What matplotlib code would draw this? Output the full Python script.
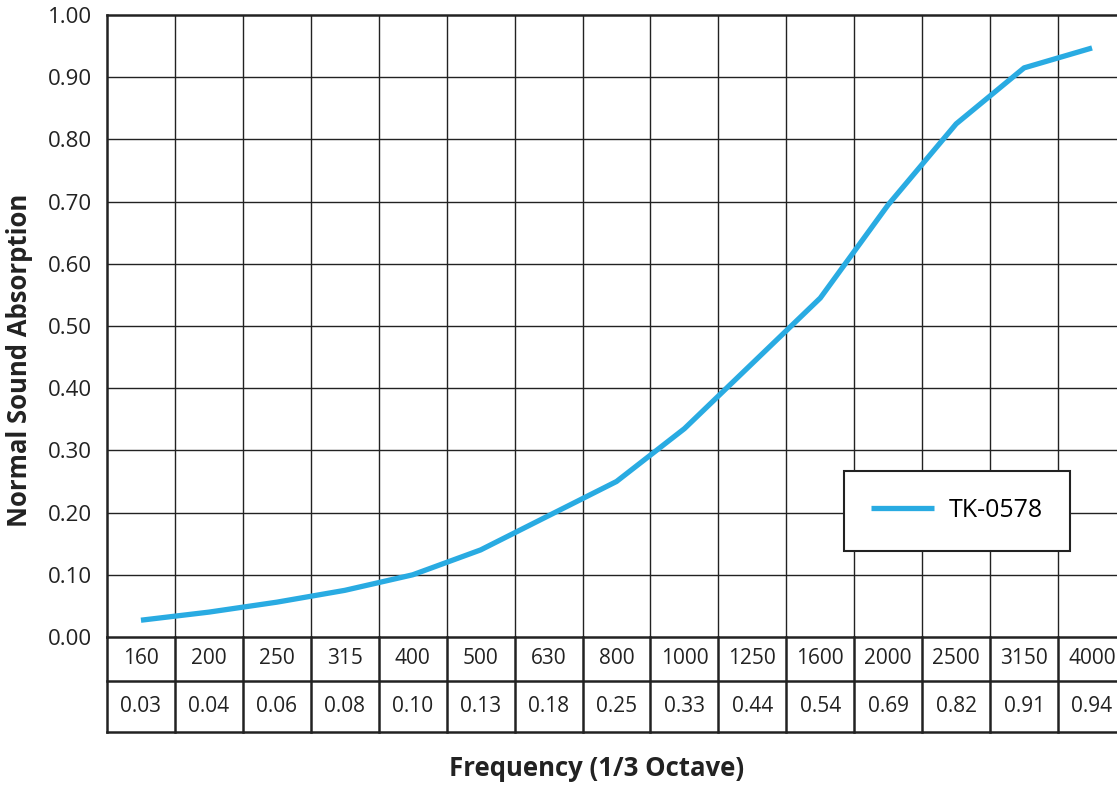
import matplotlib
matplotlib.use("Agg")
import matplotlib.pyplot as plt

# frequencies (1/3 octave bands) and absorption values
freqs = ["160", "200", "250", "315", "400", "500", "630", "800", "1000",
         "1250", "1600", "2000", "2500", "3150", "4000"]
table_vals = ["0.03", "0.04", "0.06", "0.08", "0.10", "0.13", "0.18", "0.25",
              "0.33", "0.44", "0.54", "0.69", "0.82", "0.91", "0.94"]
curve = [0.027, 0.040, 0.056, 0.075, 0.100, 0.140, 0.195, 0.250, 0.335,
         0.440, 0.545, 0.695, 0.825, 0.915, 0.947]
yticks = [0.0, 0.1, 0.2, 0.3, 0.4, 0.5, 0.6, 0.7, 0.8, 0.9, 1.0]

plt.rcParams['font.family'] = ['Open Sans', 'DejaVu Sans']
line_color = "#29abe2"
grid_color = "#222222"

fig = plt.figure(figsize=(11.17, 7.87), dpi=100)
W, H = 1117, 787
ax = fig.add_axes([107 / W, 1 - 637 / H, (1126 - 107) / W, 622 / H])

n = len(freqs)
xs = [i + 0.5 for i in range(n)]
ax.plot(xs, curve, color=line_color, lw=3.8, solid_capstyle='butt',
        label="TK-0578", zorder=3)

ax.set_xlim(0, n)
ax.set_ylim(0, 1)
ax.set_yticks(yticks)
ax.set_yticklabels([f"{v:.2f}" for v in yticks], fontsize=16, color="#222222")
ax.tick_params(axis='y', length=0, pad=11)
ax.set_xticks([])

# grid
for i in range(1, n):
    ax.axvline(i, color=grid_color, lw=1.0, zorder=1)
for v in yticks[1:-1]:
    ax.axhline(v, color=grid_color, lw=1.0, zorder=1)

for side in ['left', 'top']:
    ax.spines[side].set_linewidth(1.8)
    ax.spines[side].set_color(grid_color)
ax.spines['right'].set_visible(False)
ax.spines['bottom'].set_visible(False)

# table below the plot
tr = ax.get_xaxis_transform()
r1 = -44 / 622
r2 = -95 / 622
for yv in [0, r1, r2]:
    ax.plot([0, n], [yv, yv], transform=tr, color=grid_color, lw=1.8,
            clip_on=False)
for i in range(n + 1):
    ax.plot([i, i], [0, r2], transform=tr, color=grid_color, lw=1.8,
            clip_on=False)
for i in range(n):
    ax.text(i + 0.5, r1 / 2, freqs[i], transform=tr, ha='center', va='center',
            fontsize=15, color="#222222")
    ax.text(i + 0.5, (r1 + r2) / 2, table_vals[i], transform=tr, ha='center',
            va='center', fontsize=15, color="#222222")

fig.text(20 / W, 1 - 360 / H, "Normal Sound Absorption", rotation=90,
         ha='center', va='center', fontsize=18.5, fontweight='bold',
         color="#222222")
fig.text(597 / W, 1 - 769 / H, "Frequency (1/3 Octave)", ha='center',
         va='center', fontsize=18.5, fontweight='bold', color="#222222")

leg = ax.legend(loc='center', bbox_to_anchor=(957 / W, 1 - 510.5 / H),
                bbox_transform=fig.transFigure, fontsize=18, frameon=True,
                fancybox=False, edgecolor=grid_color, handlelength=2.5,
                borderpad=1.1, handletextpad=0.6, borderaxespad=0)
leg.get_frame().set_linewidth(1.5)
leg.get_frame().set_alpha(1)

fig.savefig("out.png", dpi=100)
